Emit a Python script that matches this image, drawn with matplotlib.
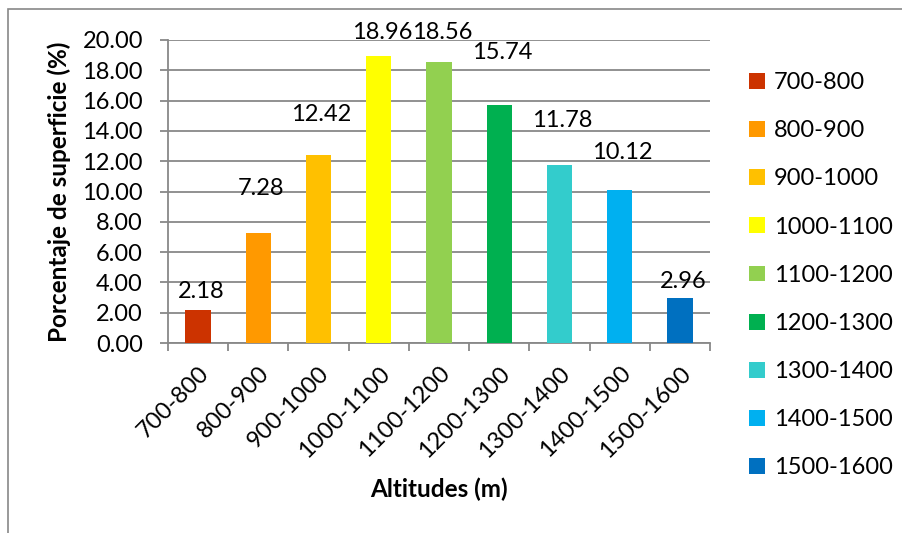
import matplotlib.pyplot as plt
from matplotlib.patches import Rectangle
from matplotlib.ticker import FormatStrFormatter, MultipleLocator
import numpy as np

plt.rcParams['font.family'] = ['Lato', 'DejaVu Sans']

# Altitude bands and their share of the surface (%)
altitudes = ['700-800', '800-900', '900-1000', '1000-1100', '1100-1200',
             '1200-1300', '1300-1400', '1400-1500', '1500-1600']
porcentaje = [2.18, 7.28, 12.42, 18.96, 18.56, 15.74, 11.78, 10.12, 2.96]
colores = ['#CC3300', '#FF9900', '#FFC000', '#FFFF00', '#92D050',
           '#00B050', '#33CCCC', '#00B0F0', '#0070C0']

GRIS = '#888888'
FS = 17

fig = plt.figure(figsize=(9.03, 5.33), dpi=100)
ax = fig.add_axes([168 / 903, 1 - 343 / 533, (710 - 168) / 903, (343 - 40) / 533])

# chart frame (only its left and top edges fall inside the canvas)
fig.patches.append(Rectangle((8 / 903, -0.1), 1.5, 1.1 - 9 / 533,
                             transform=fig.transFigure, fill=False,
                             edgecolor=GRIS, linewidth=1.2, zorder=0))

x = np.arange(len(altitudes))
for i, (alt, val, col) in enumerate(zip(altitudes, porcentaje, colores)):
    ax.bar(x[i], val, width=0.42, color=col, label=alt, zorder=3)

# value labels sit a little above each bar, as laid out by the spreadsheet
label_offset = [1.19, 2.95, 2.63, 1.54, 1.94, 3.46, 2.92, 2.48, 1.13]
for xi, val, off in zip(x, porcentaje, label_offset):
    ax.text(xi + 0.05, val + off, f'{val:.2f}', ha='center', va='center',
            fontsize=FS)

ax.set_xlim(-0.5, len(altitudes) - 0.5)
ax.set_ylim(0, 20)
ax.yaxis.set_major_locator(MultipleLocator(2))
ax.yaxis.set_major_formatter(FormatStrFormatter('%.2f'))
ax.grid(axis='y', color=GRIS, linewidth=1.3, zorder=0)
ax.set_axisbelow(True)

for s in ['top', 'right']:
    ax.spines[s].set_visible(False)
for s in ['left', 'bottom']:
    ax.spines[s].set_color(GRIS)
    ax.spines[s].set_linewidth(1.3)

ax.tick_params(axis='y', length=6, width=1.3, color=GRIS, labelsize=FS, pad=12)
ax.set_xticks(x)
ax.set_xticklabels(altitudes, rotation=45, ha='right', rotation_mode='anchor',
                   fontsize=FS)
ax.tick_params(axis='x', which='major', length=0, pad=14)
ax.set_xticks(np.arange(-0.5, len(altitudes)), minor=True)
ax.tick_params(axis='x', which='minor', length=6, width=1.3, color=GRIS)

ax.set_ylabel('Porcentaje de superficie (%)', fontsize=17.5, fontweight='bold',
              labelpad=8)
ax.set_xlabel('Altitudes (m)', fontsize=17.5, fontweight='bold', labelpad=12)

ax.legend(loc='upper left', bbox_to_anchor=(1.055, 0.925), frameon=False,
          fontsize=FS, handlelength=0.65, handleheight=0.65, handletextpad=0.4,
          labelspacing=1.15, borderaxespad=0)

fig.savefig('out.png', dpi=100)
